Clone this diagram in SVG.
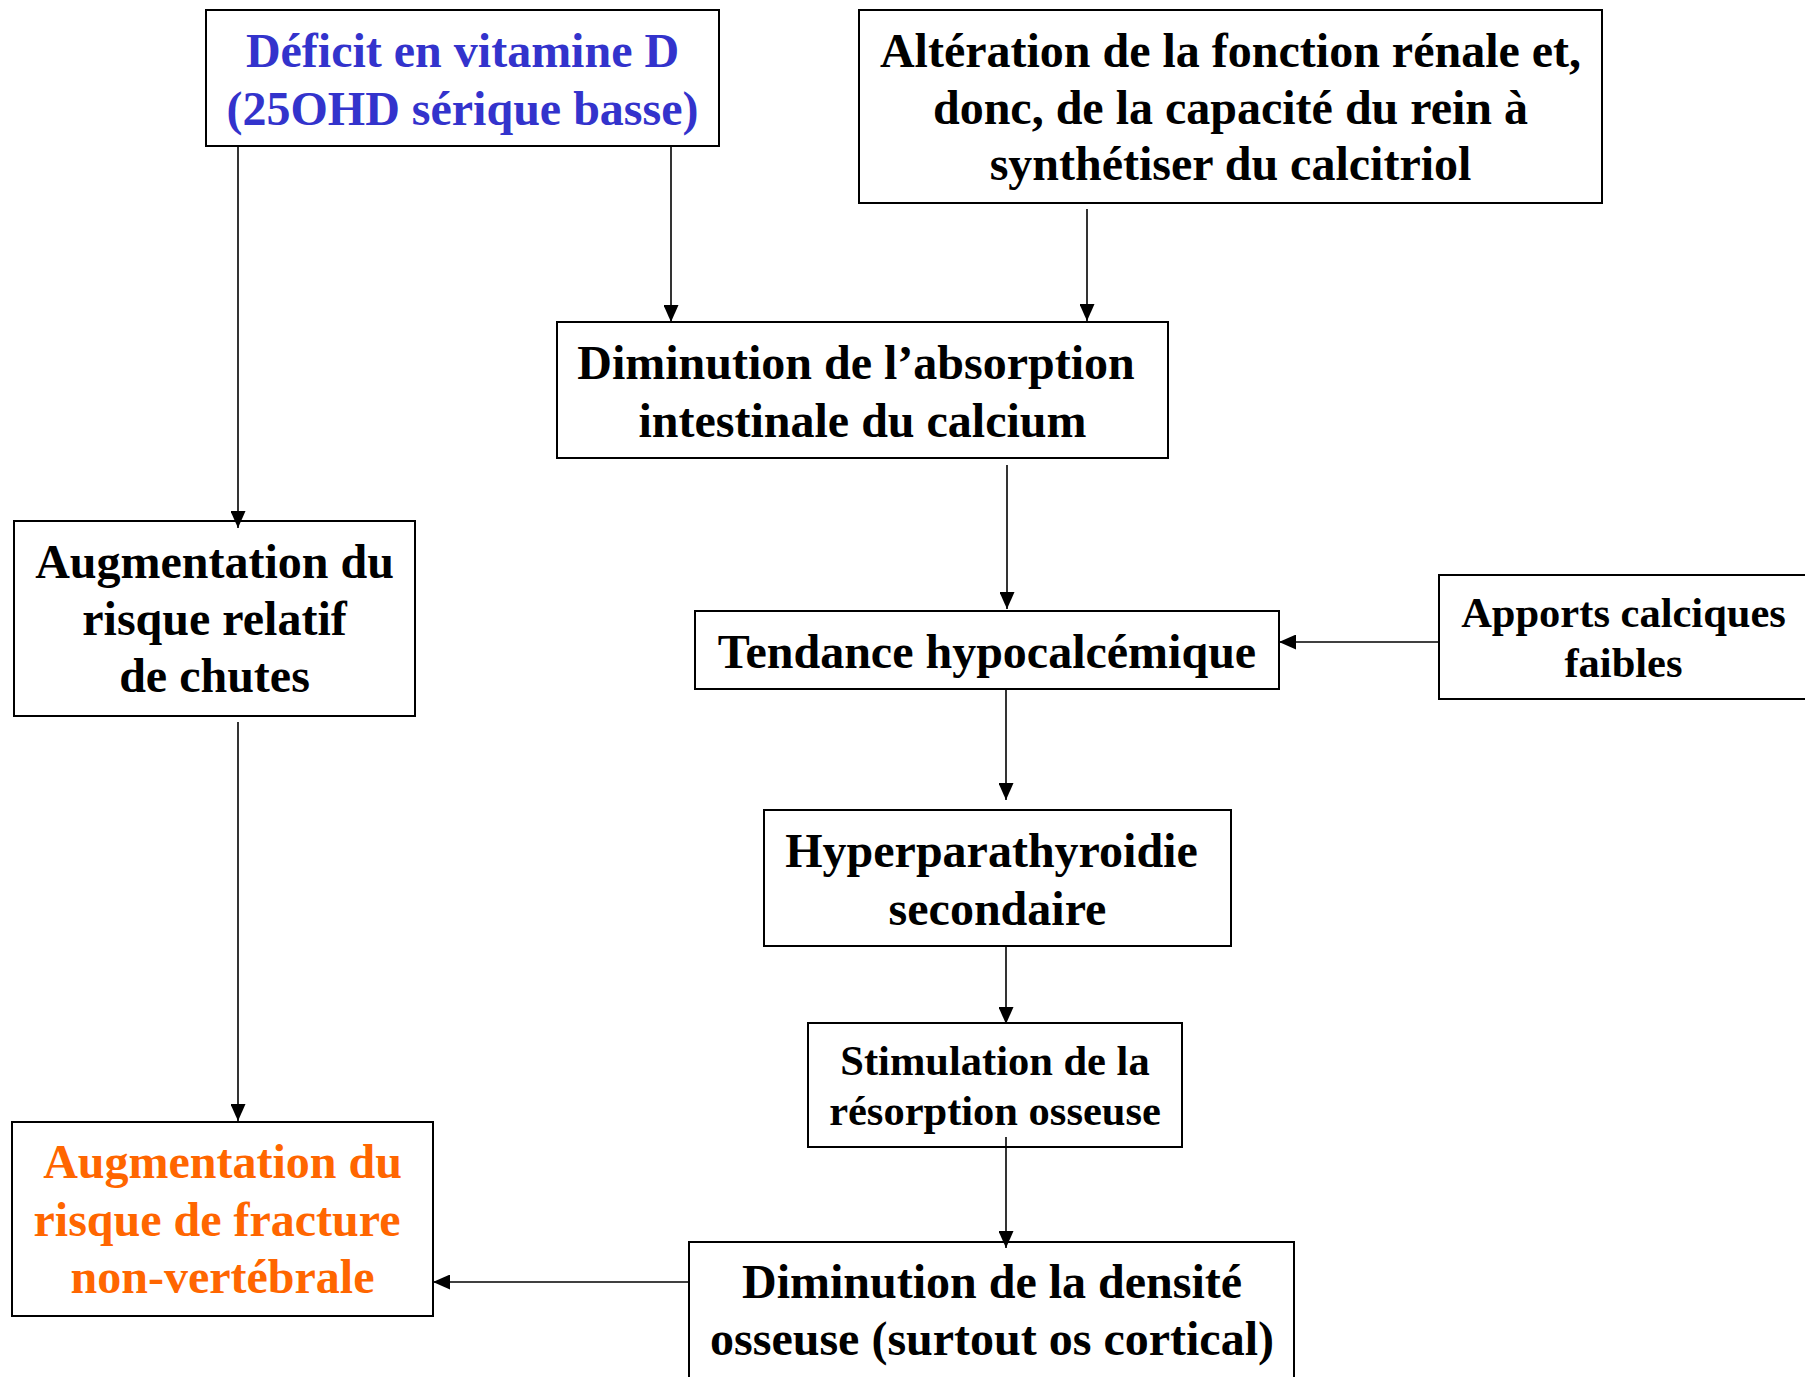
<svg xmlns="http://www.w3.org/2000/svg" width="1805" height="1377" viewBox="0 0 1805 1377">
<style>
.box{fill:#fff;stroke:#000;stroke-width:2}
.t{font-family:"Liberation Serif","Times New Roman",serif;font-weight:bold;font-size:48px;fill:#000;text-anchor:middle}
.s{font-size:42.5px}
.blue{fill:#3333CC}
.orange{fill:#FF6600}
.c{stroke:#000;stroke-width:1.6;fill:none;marker-end:url(#ah)}
</style>
<defs>
<marker id="ah" markerUnits="userSpaceOnUse" markerWidth="17" markerHeight="15" refX="17" refY="7.5" orient="auto">
<path d="M0,0 L17,7.5 L0,15 z" fill="#000"/>
</marker>
</defs>
<rect width="1805" height="1377" fill="#fff"/>
<g id="n1">
<rect class="box" x="206" y="10" width="513" height="136"/>
<text class="t blue" x="462.5" y="67">Déficit en vitamine D</text>
<text class="t blue" x="462.5" y="125">(25OHD sérique basse)</text>
</g>
<g id="n2">
<rect class="box" x="859" y="10" width="743" height="193"/>
<text class="t" x="1230.5" y="67">Altération de la fonction rénale et,</text>
<text class="t" x="1230.5" y="124">donc, de la capacité du rein à</text>
<text class="t" x="1230.5" y="180">synthétiser du calcitriol</text>
</g>
<g id="n3">
<rect class="box" x="557" y="322" width="611" height="136"/>
<text class="t" x="856" y="379">Diminution de l’absorption</text>
<text class="t" x="862.5" y="437">intestinale du calcium</text>
</g>
<g id="n4">
<rect class="box" x="14" y="521" width="401" height="195"/>
<text class="t" x="214.5" y="578">Augmentation du</text>
<text class="t" x="214.5" y="635">risque relatif</text>
<text class="t" x="214.5" y="692">de chutes</text>
</g>
<g id="n5">
<rect class="box" x="695" y="611" width="584" height="78"/>
<text class="t" x="987" y="668">Tendance hypocalcémique</text>
</g>
<g id="n6">
<rect class="box" x="1439" y="575" width="370" height="124"/>
<text class="t s" x="1623.5" y="627">Apports calciques</text>
<text class="t s" x="1623.5" y="677">faibles</text>
</g>
<g id="n7">
<rect class="box" x="764" y="810" width="467" height="136"/>
<text class="t" x="991.5" y="867">Hyperparathyroidie</text>
<text class="t" x="997.5" y="925">secondaire</text>
</g>
<g id="n8">
<rect class="box" x="808" y="1023" width="374" height="124"/>
<text class="t s" x="995" y="1075">Stimulation de la</text>
<text class="t s" x="995" y="1125">résorption osseuse</text>
</g>
<g id="n9">
<rect class="box" x="689" y="1242" width="605" height="150"/>
<text class="t" x="992" y="1298">Diminution de la densité</text>
<text class="t" x="992" y="1355">osseuse (surtout os cortical)</text>
</g>
<g id="n10">
<rect class="box" x="12" y="1122" width="421" height="194"/>
<text class="t orange" x="222.5" y="1178">Augmentation du</text>
<text class="t orange" x="217" y="1236">risque de fracture</text>
<text class="t orange" x="222.5" y="1293">non-vertébrale</text>
</g>
<g id="connectors">
<line class="c" x1="238" y1="146" x2="238" y2="528"/>
<line class="c" x1="671" y1="146" x2="671" y2="322"/>
<line class="c" x1="1087" y1="209" x2="1087" y2="321"/>
<line class="c" x1="1007" y1="465" x2="1007" y2="609"/>
<line class="c" x1="1439" y1="642" x2="1279" y2="642"/>
<line class="c" x1="1006" y1="690" x2="1006" y2="800"/>
<line class="c" x1="1006" y1="946" x2="1006" y2="1024"/>
<line class="c" x1="1006" y1="1137" x2="1006" y2="1248"/>
<line class="c" x1="689" y1="1282" x2="433" y2="1282"/>
<line class="c" x1="238" y1="722" x2="238" y2="1121"/>
</g>
</svg>
